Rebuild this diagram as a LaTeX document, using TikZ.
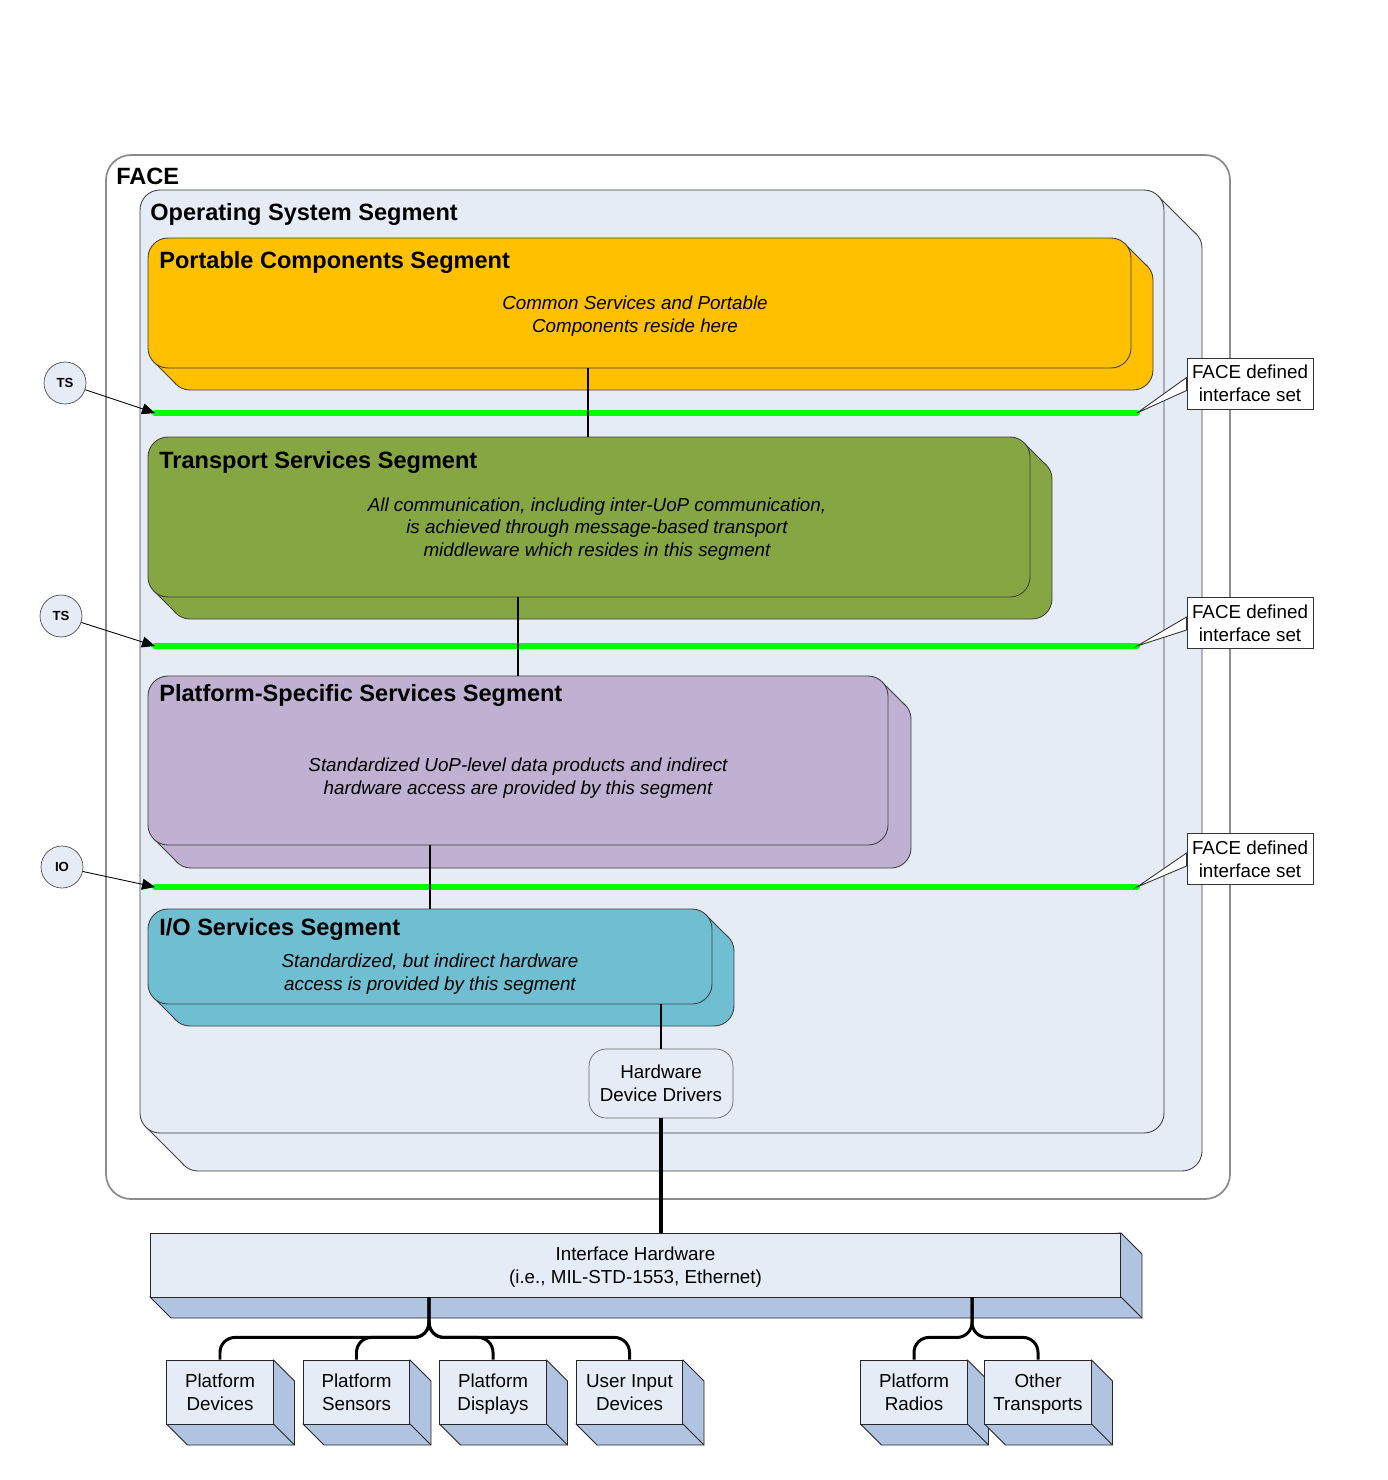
\documentclass[tikz,border=0pt]{standalone}
\usepackage{fontspec}
\setmainfont{Liberation Sans}
\usetikzlibrary{arrows.meta,calc,fit}
\definecolor{osfill}{HTML}{E6ECF6}
\definecolor{pcsfill}{HTML}{FFC000}
\definecolor{tssfill}{HTML}{86A644}
\definecolor{psssfill}{HTML}{C0B1D2}
\definecolor{iofill}{HTML}{70BED2}
\definecolor{hwblue}{HTML}{B0C4E2}
\definecolor{ifgreen}{HTML}{00FF00}
\newcommand{\tall}{\rule{0pt}{12pt}}
\tikzset{
  rim/.style={draw=black!75,line width=0.5pt},
  slab/.style={rim,rounded corners=0.4cm,inner sep=0pt},
  ttl/.style={anchor=base west,inner sep=0pt,font=\fontsize{13.4}{16}\selectfont\bfseries},
  note/.style={align=center,inner sep=0pt,font=\fontsize{10.7}{12.8}\selectfont\itshape},
  txt/.style={align=center,font=\fontsize{10.7}{13}\selectfont},
  iface/.style={draw=ifgreen,line width=3.4pt,line cap=round},
  wire/.style={line width=1.5pt},
  bus/.style={line width=1.7pt,rounded corners=0.3cm},
  ptr/.style={-{Triangle[length=2.6mm,width=2.2mm]},line width=0.5pt},
  refc/.style={circle,draw=black!70,fill=osfill,minimum size=0.84cm,inner sep=0pt,
    font=\fontsize{7.5}{9}\selectfont\bfseries},
  fdbox/.style={txt,draw=black!80,fill=white,line width=0.5pt,minimum width=2.52cm,
    minimum height=1.02cm,inner sep=1pt},
  drv/.style={txt,draw=black!60,fill=osfill,rounded corners=0.34cm,minimum width=2.88cm,
    minimum height=1.38cm},
  crate/.style={txt,draw=black!85,fill=osfill,line width=0.5pt,minimum width=2.13cm,
    minimum height=1.28cm,inner sep=1pt,execute at end node=\strut},
  extr/.style={draw=black!85,fill=hwblue,line width=0.5pt},
}

\begin{document}
\begin{tikzpicture}[x=0.02cm,y=-0.02cm]
  \useasboundingbox (0,0) rectangle (1387,1480);
  \fill[white] (0,0) rectangle (1387,1480);
  % outer FACE frame
  \node[fit={(106,155) (1230,1199)},inner sep=0pt,draw=black!45,line width=1pt,
    rounded corners=0.5cm,fill=white] (face) {};
  \node[ttl] (facelbl) at (116,185) {FACE};
  % segments, back to front
  \foreach \nm/\col/\xa/\ya/\xb/\yb/\dd in {os/osfill/140/190/1164/1133/38,
      pcs/pcsfill/148/238/1131/368/22, tss/tssfill/148/437/1030/597/22,
      psss/psssfill/148/676/888/845/23, io/iofill/148/909/712/1004/22}{
    \filldraw[rim,fill=\col,rounded corners=0.4cm] (\xa+\dd,\ya+\dd) rectangle (\xb+\dd,\yb+\dd);
    \fill[\col] (\xb-6,\ya+6) -- ++(\dd,\dd) -- (\xa+\dd+6,\yb+\dd-6) -- (\xa+6,\yb-6) -- cycle;
    \draw[rim] (\xb-6,\ya+6) -- ++(\dd,\dd) (\xa+6,\yb-6) -- ++(\dd,\dd);
    \node[slab,fill=\col,fit={(\xa,\ya) (\xb,\yb)}] (\nm) {};
  }
  \node[ttl] (osttl) at (150,220) {Operating System Segment};
  \node[ttl] (pcsttl) at (159,268) {Portable Components Segment};
  \node[ttl] (tssttl) at (159,468) {Transport Services Segment};
  \node[ttl] (psssttl) at (159,701) {Platform-Specific Services Segment};
  \node[ttl] (iottl) at (159,935) {I/O Services Segment};
  \node[note] (pcsnote) at (635,316) {Common Services and Portable\\Components reside here};
  \node[note] (tssnote) at (597,529) {All communication, including inter-UoP communication,\\
    is achieved through message-based transport\\middleware which resides in this segment};
  \node[note] (psssnote) at (518,778) {Standardized UoP-level data products and indirect\\
    hardware access are provided by this segment};
  \node[note] (ionote) at (430,974) {Standardized, but indirect hardware\\access is provided by this segment};

  % interface sets
  \foreach \g/\y in {1/413,2/646,3/887}{
    \coordinate (ga\g) at (155,\y); \coordinate (gb\g) at (1137,\y);
    \draw[iface] (ga\g) -- (gb\g);
  }
  \node[refc] (ts1) at (65,383) {TS};
  \node[refc] (ts2) at (61,616) {TS};
  \node[refc] (io1) at (62,867) {IO};
  \draw[ptr] (ts1) -- (ga1);
  \draw[ptr] (ts2) -- (ga2);
  \draw[ptr] (io1) -- (ga3);
  \node[fdbox] (fd1) at (1250,383.5) {FACE defined\\interface set};
  \node[fdbox] (fd2) at (1250,623) {FACE defined\\interface set};
  \node[fdbox] (fd3) at (1250,859) {FACE defined\\interface set};
  \foreach \g in {1,2,3}
    \filldraw[draw=black!80,fill=white,line width=0.5pt] (gb\g) -- ($(fd\g.west)+(0,-6)$)
      -- ($(fd\g.west)+(0,7)$) -- cycle;

  % segment links
  \draw[wire] (588,0 |- pcs.south) -- (588,0 |- tss.north);
  \draw[wire] (518,0 |- tss.south) -- (518,0 |- psss.north);
  \draw[wire] (430,0 |- psss.south) -- (430,0 |- io.north);

  % drivers and hardware
  \node[drv] (hdd) at (661,1083.5) {Hardware\\Device Drivers};
  \filldraw[extr] (1121,1233) -- ++(21,21) -- ++(0,64) -- ++(-971,0) -- ++(-21,-21) -- cycle;
  \draw[extr] (1121,1297) -- ++(21,21);
  \node[crate,minimum width=19.42cm] (ih) at (635.5,1265) {\tall Interface Hardware\\(i.e., MIL-STD-1553, Ethernet)};
  \draw[wire] (io.south -| hdd) -- (hdd.north);
  \draw[wire,line width=2pt] (hdd.south) -- (ih.north -| hdd);

  \foreach \nm/\x/\txt in {pdev/220/{Platform\\Devices}, psen/356.5/{Platform\\Sensors},
      pdisp/493/{Platform\\Displays}, uin/629.5/{User Input\\Devices},
      prad/914/{Platform\\Radios}, otr/1038/{Other\\Transports}}{
    \filldraw[extr] (\x+53.5,1360) -- ++(21,21) -- ++(0,64) -- ++(-107,0) -- ++(-21,-21) -- cycle;
    \draw[extr] (\x+53.5,1424) -- ++(21,21);
    \node[crate] (\nm) at (\x,1392) {\tall\txt};
  }
  \coordinate (tapl) at (ih.south -| 429,0);
  \coordinate (tapr) at (ih.south -| 972,0);
  \foreach \b in {pdev,psen,pdisp,uin} \draw[bus] (tapl) -- ++(0,40) -| (\b.north);
  \foreach \b in {prad,otr} \draw[bus] (tapr) -- ++(0,40) -| (\b.north);
\end{tikzpicture}
\end{document}
